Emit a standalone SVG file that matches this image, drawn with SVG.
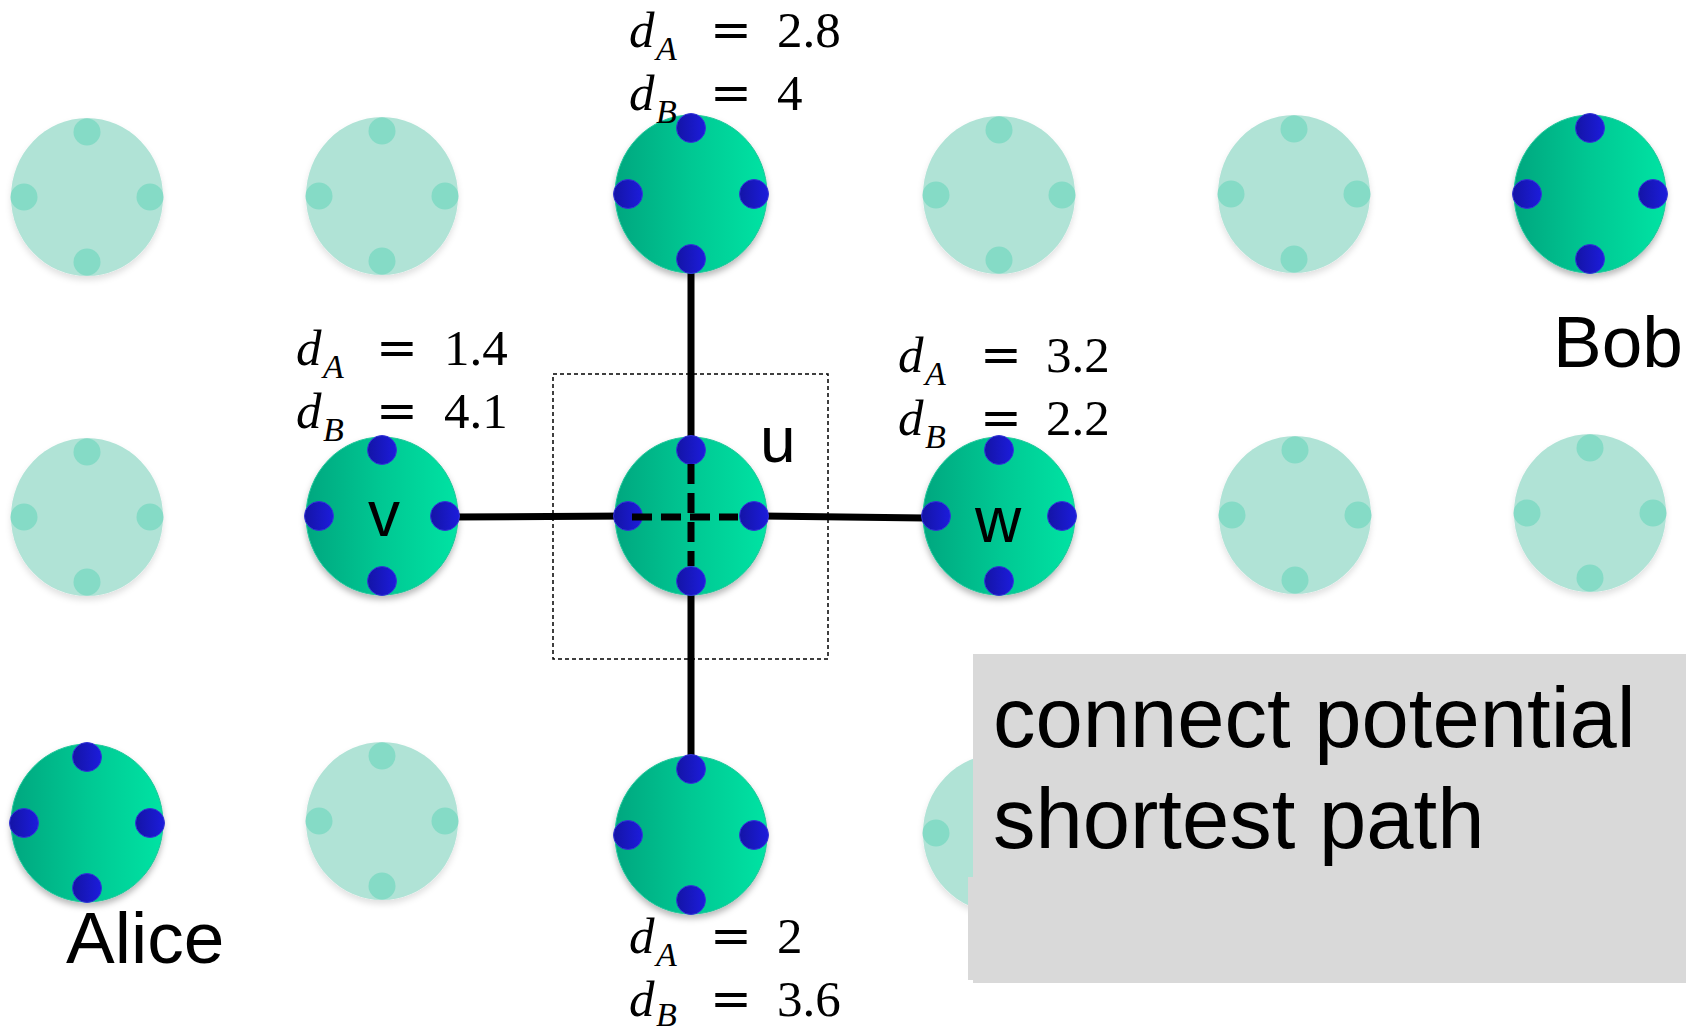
<svg xmlns="http://www.w3.org/2000/svg" width="1694" height="1031" viewBox="0 0 1694 1031">
<defs>
<linearGradient id="gNode" x1="0" y1="0" x2="1" y2="0">
<stop offset="0" stop-color="#00A77F"/>
<stop offset="0.5" stop-color="#00C893"/>
<stop offset="1" stop-color="#00E3A3"/>
</linearGradient>
<linearGradient id="gDot" x1="0" y1="0" x2="1" y2="0">
<stop offset="0" stop-color="#1414A6"/>
<stop offset="1" stop-color="#1C1CDC"/>
</linearGradient>
<filter id="sh" x="-20%" y="-20%" width="140%" height="150%">
<feDropShadow dx="0" dy="4" stdDeviation="3" flood-color="#000" flood-opacity="0.28"/>
</filter>
<filter id="shf" x="-20%" y="-20%" width="140%" height="150%">
<feDropShadow dx="0" dy="4" stdDeviation="3" flood-color="#000" flood-opacity="0.12"/>
</filter>
<g id="activeNode">
<ellipse cx="0" cy="0" rx="76" ry="79" fill="url(#gNode)" stroke="#1FC79A" stroke-width="1" filter="url(#sh)"/>
<circle cx="0" cy="-66" r="14.5" fill="url(#gDot)" stroke="#3434D8" stroke-width="1"/>
<circle cx="-63" cy="0" r="14.5" fill="url(#gDot)" stroke="#3434D8" stroke-width="1"/>
<circle cx="63" cy="0" r="14.5" fill="url(#gDot)" stroke="#3434D8" stroke-width="1"/>
<circle cx="0" cy="65" r="14.5" fill="url(#gDot)" stroke="#3434D8" stroke-width="1"/>
</g>
<g id="fadedNode">
<ellipse cx="0" cy="0" rx="76" ry="79" fill="#B0E3D6" filter="url(#shf)"/>
<circle cx="0" cy="-65" r="13.5" fill="#85DBC6"/>
<circle cx="-63" cy="0" r="13.5" fill="#85DBC6"/>
<circle cx="63" cy="0" r="13.5" fill="#85DBC6"/>
<circle cx="0" cy="65" r="13.5" fill="#85DBC6"/>
</g>
</defs>
<style>
.lbl{font-family:"Liberation Sans",Arial,sans-serif;fill:#000}
.big{font-size:73px}
.nl{font-size:64px}
.box{font-size:85px}
.m{font-family:"Liberation Serif","Times New Roman",serif;font-size:51px;fill:#000}
.eq{font-family:"DejaVu Serif",serif;font-size:50px;fill:#000}
.it{font-style:italic}
.sub{font-size:34px}
.conn{stroke:#000;stroke-width:7;fill:none}
.dash{stroke:#000;stroke-width:7;fill:none;stroke-dasharray:20 9}
</style>
<rect width="1694" height="1031" fill="#fff"/>

<g id="connectors">
<line class="conn" x1="691" y1="250" x2="691" y2="452"/>
<line class="conn" x1="691" y1="580" x2="691" y2="770"/>
<line class="conn" x1="452" y1="517" x2="628" y2="516"/>
<line class="conn" x1="754" y1="516" x2="925" y2="518"/>
<rect x="553" y="374" width="275" height="285" fill="none" stroke="#000" stroke-width="1.5" stroke-dasharray="4 3"/>
</g>

<g id="n-r1c1"><use href="#fadedNode" x="87" y="197"/></g>
<g id="n-r1c2"><use href="#fadedNode" x="382" y="196"/></g>
<g id="n-r1c4"><use href="#fadedNode" x="999" y="195"/></g>
<g id="n-r1c5"><use href="#fadedNode" x="1294" y="194"/></g>
<g id="n-r2c1"><use href="#fadedNode" x="87" y="517"/></g>
<g id="n-r2c5"><use href="#fadedNode" x="1295" y="515"/></g>
<g id="n-r2c6"><use href="#fadedNode" x="1590" y="513"/></g>
<g id="n-r3c2"><use href="#fadedNode" x="382" y="821"/></g>
<g id="n-r3c4"><use href="#fadedNode" x="999" y="833"/></g>

<g id="n-top">
<use href="#activeNode" x="691" y="194"/>
<text class="m it" x="629" y="47">d</text><text class="m it sub" x="656" y="60">A</text><text class="eq" x="710" y="47" textLength="33">=</text><text class="m" x="777" y="47">2.8</text>
<text class="m it" x="629" y="110">d</text><text class="m it sub" x="656" y="123">B</text><text class="eq" x="710" y="110" textLength="33">=</text><text class="m" x="777" y="110">4</text>
</g>

<g id="n-bob">
<use href="#activeNode" x="1590" y="194"/>
<text class="lbl big" x="1553" y="367">Bob</text>
</g>

<g id="n-v">
<use href="#activeNode" x="382" y="516"/>
<text class="lbl nl" x="384" y="536" text-anchor="middle">v</text>
<text class="m it" x="296" y="365">d</text><text class="m it sub" x="323" y="378">A</text><text class="eq" x="376" y="365" textLength="33">=</text><text class="m" x="444" y="365">1.4</text>
<text class="m it" x="296" y="428">d</text><text class="m it sub" x="323" y="441">B</text><text class="eq" x="376" y="428" textLength="33">=</text><text class="m" x="444" y="428">4.1</text>
</g>

<g id="n-u">
<use href="#activeNode" x="691" y="516"/>
<text class="lbl nl" x="760" y="462">u</text>
</g>

<g id="n-w">
<use href="#activeNode" x="999" y="516"/>
<text class="lbl nl" x="998" y="542" text-anchor="middle">w</text>
<text class="m it" x="898" y="372">d</text><text class="m it sub" x="925" y="385">A</text><text class="eq" x="980" y="372" textLength="33">=</text><text class="m" x="1046" y="372">3.2</text>
<text class="m it" x="898" y="435">d</text><text class="m it sub" x="925" y="448">B</text><text class="eq" x="980" y="435" textLength="33">=</text><text class="m" x="1046" y="435">2.2</text>
</g>

<g id="n-alice">
<use href="#activeNode" x="87" y="823"/>
<text class="lbl big" x="66" y="963">Alice</text>
</g>

<g id="n-bottom">
<use href="#activeNode" x="691" y="835"/>
<text class="m it" x="629" y="953">d</text><text class="m it sub" x="656" y="966">A</text><text class="eq" x="710" y="953" textLength="33">=</text><text class="m" x="777" y="953">2</text>
<text class="m it" x="629" y="1016">d</text><text class="m it sub" x="656" y="1026">B</text><text class="eq" x="710" y="1016" textLength="33">=</text><text class="m" x="777" y="1016">3.6</text>
</g>

<g id="u-cross">
<line class="dash" x1="691" y1="464" x2="691" y2="566"/>
<line class="dash" x1="632" y1="517" x2="738" y2="517"/>
</g>

<g id="note">
<path d="M973 654 H1686 V983 H973 V980 H968 V877 H973 Z" fill="#D9D9D9"/>
<text class="lbl box" x="993" y="747">connect potential</text>
<text class="lbl box" x="993" y="848">shortest path</text>
</g>
</svg>
